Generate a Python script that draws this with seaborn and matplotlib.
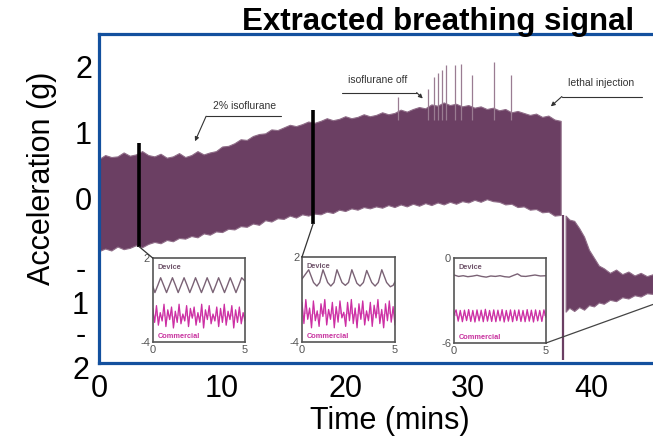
import numpy as np
import seaborn as sns
import matplotlib
matplotlib.use('Agg')
import matplotlib.pyplot as plt
from matplotlib.patches import ConnectionPatch
from matplotlib.transforms import blended_transform_factory

# ---- main trace (minutes, g) ----
t_main = np.arange(0, 38, 0.5)
upper = [0.60, 0.66, 0.63, 0.64, 0.70, 0.65, 0.67, 0.72, 0.66, 0.64,
         0.68, 0.62, 0.64, 0.69, 0.63, 0.66, 0.72, 0.67, 0.70, 0.72,
         0.79, 0.80, 0.84, 0.90, 0.89, 0.95, 0.98, 0.99, 1.05, 1.04,
         1.08, 1.12, 1.10, 1.13, 1.17, 1.15, 1.18, 1.22, 1.19, 1.21,
         1.25, 1.22, 1.24, 1.28, 1.25, 1.27, 1.31, 1.28, 1.30, 1.35,
         1.32, 1.36, 1.39, 1.37, 1.43, 1.41, 1.46, 1.42, 1.44, 1.40,
         1.42, 1.38, 1.40, 1.36, 1.38, 1.34, 1.36, 1.31, 1.33, 1.30,
         1.27, 1.29, 1.24, 1.26, 1.20, 1.18]
lower = [-0.80, -0.76, -0.79, -0.73, -0.77, -0.75, -0.71, -0.74, -0.69, -0.66,
         -0.68, -0.63, -0.65, -0.60, -0.61, -0.57, -0.59, -0.53, -0.55, -0.50,
         -0.51, -0.46, -0.47, -0.42, -0.43, -0.38, -0.40, -0.33, -0.35, -0.30,
         -0.31, -0.26, -0.29, -0.24, -0.26, -0.23, -0.24, -0.20, -0.22, -0.17,
         -0.19, -0.15, -0.17, -0.13, -0.15, -0.12, -0.14, -0.10, -0.13, -0.09,
         -0.12, -0.08, -0.11, -0.07, -0.10, -0.06, -0.09, -0.05, -0.08, -0.04,
         -0.06, -0.02, -0.05, -0.01, -0.04, -0.05, -0.09, -0.08, -0.13, -0.12,
         -0.17, -0.16, -0.21, -0.20, -0.26, -0.25]

# after the lethal injection
t_post = [37.9, 38.2, 38.6, 39.0, 39.4, 39.8, 40.2, 40.6, 41.0, 41.5,
          42.0, 42.5, 43.0, 43.5, 44.0, 44.5, 45.0]
upper_post = [-0.26, -0.32, -0.34, -0.45, -0.58, -0.78, -0.90, -1.02, -1.06, -1.13,
              -1.08, -1.15, -1.11, -1.17, -1.13, -1.18, -1.15]
lower_post = [-1.72, -1.66, -1.71, -1.65, -1.69, -1.62, -1.64, -1.58, -1.60, -1.54,
              -1.56, -1.50, -1.52, -1.47, -1.49, -1.44, -1.45]

# sigh spikes
spike_t = [24.3, 26.7, 27.2, 27.5, 27.9, 28.2, 28.9, 29.4, 30.3, 32.1, 33.5]
spike_top = [1.55, 1.67, 1.85, 1.90, 1.96, 2.03, 2.03, 2.05, 1.88, 2.08, 1.88]

# zoom-window markers
mark_t = [3.25, 17.4]
mark_lo = [-0.73, -0.38]
mark_hi = [0.85, 1.35]

# ---- inset traces (seconds, arbitrary units) ----
d1_t = [0, 0.12, 0.28, 0.43, 0.59, 0.75, 0.91, 1.07, 1.23, 1.38, 1.54, 1.70,
        1.86, 2.01, 2.17, 2.32, 2.48, 2.64, 2.80, 2.95, 3.11, 3.26, 3.42, 3.57,
        3.73, 3.89, 4.05, 4.20, 4.36, 4.51, 4.67, 4.82, 5.0]
d1_v = [0.0, -0.47, 0.06, 0.59, 0.06, -0.47, 0.06, 0.59, 0.06, -0.47, 0.06, 0.59,
        0.06, -0.47, 0.06, 0.59, 0.06, -0.47, 0.06, 0.59, 0.06, -0.47, 0.06, 0.59,
        0.06, -0.47, 0.06, 0.59, 0.06, -0.47, 0.06, 0.59, 0.35]
d2_t = [0, 0.36, 0.62, 0.80, 0.95, 1.13, 1.38, 1.55, 1.72, 1.88, 2.15, 2.33, 2.50,
        2.68, 2.95, 3.12, 3.30, 3.48, 3.75, 3.93, 4.10, 4.29, 4.55, 4.75, 4.90, 5.0]
d2_v = [0.45, 1.10, 0.20, -0.05, 0.20, 1.10, 0.20, -0.05, 0.20, 1.10, 0.20, 0.00,
        0.20, 1.10, 0.15, -0.05, 0.20, 1.05, 0.20, -0.05, 0.20, 1.10, 0.20, -0.10,
        0.00, 0.25]
d3_t = [0, 0.25, 0.5, 0.75, 1.0, 1.25, 1.5, 1.75, 2.0, 2.25, 2.5, 2.75, 3.0,
        3.25, 3.45, 3.65, 3.9, 4.15, 4.4, 4.7, 5.0]
d3_v = [-1.20, -1.30, -1.25, -1.32, -1.28, -1.22, -1.30, -1.35, -1.27, -1.30,
        -1.25, -1.32, -1.35, -1.22, -1.12, -1.28, -1.30, -1.25, -1.20, -1.27, -1.25]

c1_v = [-1.6, -2.6, -1.4, -2.8, -1.9, -2.5, -1.3, -2.9, -1.7, -2.4, -1.5, -3.0,
        -1.8, -2.6, -1.3, -2.7, -2.0, -2.5, -1.4, -2.9, -1.6, -2.3, -1.5, -2.8,
        -1.9, -2.6, -1.3, -3.0, -1.7, -2.4, -1.4, -2.7, -2.0, -2.5, -1.5, -2.9,
        -1.6, -2.6, -1.3, -2.8, -1.8, -2.4, -1.4, -3.0, -1.7, -2.6, -1.5, -2.7,
        -1.9, -2.5]
c2_v = [-1.2, -2.7, -1.0, -2.4, -1.6, -3.0, -1.1, -2.5, -1.8, -2.9, -1.3, -2.2,
        -1.0, -2.8, -1.7, -2.4, -1.2, -3.0, -1.5, -2.6, -1.1, -2.3, -1.9, -2.9,
        -1.2, -2.5, -1.0, -2.7, -1.6, -3.0, -1.3, -2.4, -1.1, -2.8, -1.8, -2.5,
        -1.2, -2.9, -1.4, -2.3, -1.0, -2.7, -1.7, -3.0, -1.3, -2.5, -1.1, -2.6,
        -1.5, -2.8]
c3_v = [-4.0, -3.66, -4.46, -3.70, -4.50, -3.68, -4.42, -3.64, -4.48, -3.70,
        -4.52, -3.66, -4.44, -3.68, -4.50, -3.62, -4.46, -3.70, -4.48, -3.66,
        -4.50, -3.68, -4.44, -3.64, -4.52, -3.70, -4.46, -3.66, -4.50, -3.68,
        -4.42, -3.66, -4.48, -3.70, -4.50, -3.64, -4.46, -3.68, -4.52, -3.66,
        -4.44, -3.70, -4.48, -3.66, -4.20]

insets = [
    dict(rect=[152.7, 258, 245, 342], ylim=(-4, 2), dt=d1_t, dv=d1_v, cv=c1_v),
    dict(rect=[302, 257, 395, 342], ylim=(-4, 2), dt=d2_t, dv=d2_v, cv=c2_v),
    dict(rect=[454, 258, 546, 343], ylim=(-6, 0), dt=d3_t, dv=d3_v, cv=c3_v),
]

sig_col = '#6b3f63'
blue = '#13509e'
W, H = 653, 441

sns.set_theme(style='white')
plt.rcParams['font.family'] = ['Liberation Sans', 'DejaVu Sans']
plt.rcParams['text.color'] = 'black'
plt.rcParams['axes.labelcolor'] = 'black'

fig = plt.figure(figsize=(6.53, 4.41), dpi=100)
ax = fig.add_axes([99 / W, 1 - 363 / H, 554 / W, 329 / H])

ax.fill_between(t_main, lower, upper, color=sig_col, lw=0.8, edgecolor='#8f6d88')
ax.fill_between(t_post, lower_post, upper_post, color=sig_col, lw=0.8, edgecolor='#8f6d88')
ax.vlines(spike_t, 1.2, spike_top, color='#9a7c92', lw=0.9)
ax.vlines([37.65], -2.45, -0.25, color=sig_col, lw=1.6)
ax.vlines(mark_t, mark_lo, mark_hi, color='black', lw=2.6, zorder=5)

ax.set_xlim(0, 45)
ax.set_ylim(-2.5, 2.5)
ax.set_xticks([0, 10, 20, 30, 40])
ax.set_xticklabels(['0', '10', '20', '30', '40'])
ax.set_yticks([-2, -1, 0, 1, 2])
ax.set_yticklabels(['', '', '0', '1', '2'])
ax.tick_params(axis='both', direction='in', length=4, width=1, color='#555555',
               labelsize=22, labelcolor='black')
ax.tick_params(axis='x', pad=8)
ax.tick_params(axis='y', pad=5)
tr = blended_transform_factory(ax.transAxes, ax.transData)
for yv, lab in [(-1.37, '-\n1'), (-2.36, '-\n2')]:
    ax.text(-0.018, yv, lab, transform=tr, ha='right', va='center',
            multialignment='center', fontsize=22, linespacing=1.2)

for side in ['left', 'top', 'bottom']:
    ax.spines[side].set_color(blue)
    ax.spines[side].set_linewidth(2.3)
ax.spines['right'].set_visible(False)

ax.set_xlabel('Time (mins)', fontsize=22)
ax.xaxis.set_label_coords(0.525, -0.13)
ax.set_ylabel('Acceleration (g)', fontsize=22)
ax.yaxis.set_label_coords(-0.075, 0.56)

# annotations
ann_col = '#333333'
notes = [('2% isoflurane', 11.8, 1.33, (8.7, 14.8, 1.25), (7.8, 0.87)),
         ('isoflurane off', 22.6, 1.72, (19.7, 25.8, 1.61), (26.3, 1.52)),
         ('lethal injection', 40.8, 1.68, (37.6, 44.1, 1.55), (36.7, 1.40))]
for txt, tx, ty, (x0, x1, yl), tip in notes:
    ax.text(tx, ty, txt, fontsize=7.5, color=ann_col, ha='center', va='bottom')
    ax.plot([x0, x1], [yl, yl], color=ann_col, lw=0.8)
    start = (x0, yl) if txt != 'isoflurane off' else (x1, yl)
    ax.annotate('', xy=tip, xytext=start,
                arrowprops=dict(arrowstyle='-|>', color=ann_col, lw=0.8,
                                mutation_scale=6, shrinkA=0, shrinkB=0))

fig.text(438 / W, 1 - 30 / H, 'Extracted breathing signal', ha='center',
         va='baseline', fontsize=22.5, fontweight='bold', color='black')

# insets
ins_axes = []
for k, d in enumerate(insets):
    x0, y0, x1, y1 = d['rect']
    ia = fig.add_axes([x0 / W, 1 - y1 / H, (x1 - x0) / W, (y1 - y0) / H])
    ia.set_facecolor('white')
    sns.lineplot(x=d['dt'], y=d['dv'], ax=ia, color='#7a6275', lw=1.0)
    ct = np.linspace(0, 5, len(d['cv']))
    mid = np.mean(d['cv'])
    ia.fill_between(ct, d['cv'], mid, color='#ea9ad9', lw=0)
    sns.lineplot(x=ct, y=d['cv'], ax=ia, color='#cc2fa3', lw=0.9)
    ia.set_xlim(0, 5)
    ia.set_ylim(*d['ylim'])
    ia.set_xticks([0, 5])
    ia.set_yticks(list(d['ylim']))
    ia.set_xticklabels(['0', '5'])
    ia.set_yticklabels([str(v) for v in d['ylim']])
    ia.tick_params(length=0, labelsize=8, labelcolor='#555555', pad=2)
    for s in ia.spines.values():
        s.set_color('#555555')
        s.set_linewidth(1.2)
    ia.text(0.05, 0.87, 'Device', transform=ia.transAxes, fontsize=5.3,
            fontweight='bold', color='#6f546a')
    ia.text(0.05, 0.05, 'Commercial', transform=ia.transAxes, fontsize=5.3,
            fontweight='bold', color='#c8329f')
    ins_axes.append(ia)

for k in range(2):
    cp = ConnectionPatch(xyA=(mark_t[k], mark_lo[k]), coordsA=ax.transData,
                         xyB=(0, insets[k]['ylim'][1]), coordsB=ins_axes[k].transData,
                         color='#333333', lw=0.9)
    fig.add_artist(cp)
cp = ConnectionPatch(xyA=(5, -6), coordsA=ins_axes[2].transData,
                     xyB=(45, -1.61), coordsB=ax.transData, color='#444444', lw=0.9)
fig.add_artist(cp)

fig.savefig('out.png', dpi=100)
